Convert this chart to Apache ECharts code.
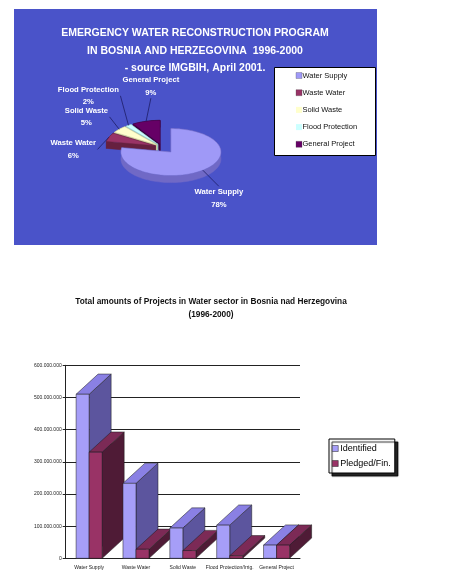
<!DOCTYPE html>
<html><head><meta charset="utf-8">
<script src="https://cdn.jsdelivr.net/npm/echarts@6/dist/echarts.min.js"></script>
<style>html,body{margin:0;padding:0;background:#fff}#c{width:452px;height:586px}</style>
</head><body><div id="c"></div>
<script>
// ---------- data ----------
const pieCategories = ['Water Supply', 'Waste Water', 'Solid Waste', 'Flood Protection', 'General Project'];
const piePercents = [78, 6, 5, 2, 9];

const barCategories = ['Water Supply', 'Waste Water', 'Solid Waste', 'Flood Protection/Irrig.', 'General Project'];
const identified = [510000000, 233000000, 94000000, 103000000, 41000000];
const pledged = [330000000, 28000000, 24000000, 8000000, 41000000];
const barSeriesNames = ['Identified', 'Pledged/Fin.'];
const yMin = 0, yMax = 600000000, yStep = 100000000;

// ---------- styles ----------
const FONT = 'Liberation Sans, Arial, sans-serif';
const LABEL_FONT = 'bold 7.7px ' + FONT;
const pieTop = ['#9f99f7', '#993366', '#ffffcc', '#ccffff', '#660066'];
const pieWall = ['#7069c6', '#66203f', '#c9c99a', '#93c6c6', '#3f003f'];
const pieExplode = [14, 7, 7, 7, 7];
const barFace = [
  {front: '#a69ef8', top: '#8a80e4', side: '#5c559e'},
  {front: '#993366', top: '#7c2a56', side: '#4f1b36'}
];

const measureCtx = document.createElement('canvas').getContext('2d');
function textWidth(str, font) { measureCtx.font = font; return measureCtx.measureText(str).width; }

const C = [162, 147], RX = 50, RY = 23.5, DEPTH = 7;
const total = piePercents.reduce((a, b) => a + b, 0);
let acc = 0;
const sliceAngles = piePercents.map(v => {
  const a0 = acc / total * Math.PI * 2; acc += v;
  return [a0, acc / total * Math.PI * 2];
});

function pieRender(params, api) {
  const i = params.dataIndex;
  const [a0, a1] = sliceAngles[i];
  const mid = (a0 + a1) / 2;
  const e = pieExplode[i];
  const ox = e * Math.sin(mid), oy = -e * Math.cos(mid) * RY / RX;
  const cx = C[0] + ox, cy = C[1] + oy;
  const P = (t, d) => [cx + RX * Math.sin(t), cy - RY * Math.cos(t) + d];
  const n = Math.max(2, Math.ceil((a1 - a0) / 0.04));
  const topArc = [], botArc = [];
  for (let k = 0; k <= n; k++) {
    const t = a0 + (a1 - a0) * k / n;
    topArc.push(P(t, 0)); botArc.push(P(t, DEPTH));
  }
  const apex = [cx, cy], apexB = [cx, cy + DEPTH];
  const wallStyle = {fill: pieWall[i], stroke: pieWall[i], lineWidth: 0.5};
  const s = Math.sin(mid), c = Math.cos(mid);
  const midY = cy - RY * c;
  const z = Math.round(midY);
  const children = [
    {type: 'polygon', z2: z, shape: {points: [apex, topArc[0], botArc[0], apexB]}, style: wallStyle},
    {type: 'polygon', z2: z, shape: {points: [apex, topArc[n], botArc[n], apexB]}, style: wallStyle},
    {type: 'polygon', z2: z, shape: {points: topArc.concat(botArc.slice().reverse())}, style: wallStyle},
    {type: 'polygon', z2: z + 1, shape: {points: [apex].concat(topArc)}, style: {fill: pieTop[i], stroke: pieWall[i], lineWidth: 0.4}}
  ];
  // label layout (decluttered on the left side)
  const name = pieCategories[i];
  const w = textWidth(name, LABEL_FONT);
  const rightAligned = s < -0.45;
  let lx, end;
  const ly = cy - 60 * c + 78 * Math.max(0, -s - 0.6);
  if (rightAligned) {
    const edge = cx + 60 * s - 3.7;
    lx = edge - w / 2;
    end = [edge + 1.5, ly];
  } else {
    lx = cx + 118 * s * Math.abs(s);
    end = c > 0 ? [lx, ly + 12] : [lx, ly - 12];
  }
  const arcPt = P(mid, 0);
  children.push(
    {type: 'polyline', z2: 500, shape: {points: [arcPt, end]}, style: {stroke: '#1d1d66', lineWidth: 0.8, fill: null}},
    {type: 'text', z2: 600, style: {
      text: name + '\n' + piePercents[i] + '%', x: lx, y: ly,
      align: 'center', verticalAlign: 'middle',
      fill: '#ffffff', font: LABEL_FONT, lineHeight: 12.5
    }}
  );
  return {type: 'group', children: children};
}

function barRender(side) {
  return function (params, api) {
    const idx = api.value(0), val = api.value(1);
    const top = api.coord([idx, val]);
    const base = api.coord([idx, 0]);
    const bw = api.size([1, 0])[0] * 0.278;
    const x0 = side === 0 ? top[0] - bw : top[0];
    const x1 = x0 + bw;
    const yT = top[1], yB = base[1];
    const dx = bw * 1.69, dy = -bw * 1.55;
    const f = barFace[side];
    const z = idx * 10 + side * 3;
    const st = {stroke: '#1a1a1a', lineWidth: 0.5};
    return {
      type: 'group',
      children: [
        {type: 'polygon', z2: z, shape: {points: [[x1, yT], [x1 + dx, yT + dy], [x1 + dx, yB + dy], [x1, yB]]}, style: Object.assign({fill: f.side}, st)},
        {type: 'polygon', z2: z + 1, shape: {points: [[x0, yT], [x1, yT], [x1 + dx, yT + dy], [x0 + dx, yT + dy]]}, style: Object.assign({fill: f.top}, st)},
        {type: 'rect', z2: z + 2, shape: {x: x0, y: yT, width: bw, height: yB - yT}, style: Object.assign({fill: f.front}, st)}
      ]
    };
  };
}

const fmt = v => String(v).replace(/\B(?=(\d{3})+(?!\d))/g, '.');

// pie legend built from categories
const legendGraphics = [
  {type: 'rect', shape: {x: 274.5, y: 67.5, width: 101, height: 88}, style: {fill: '#fff', stroke: '#000', lineWidth: 1}, z: 10}
];
pieCategories.forEach((name, i) => {
  const y = 75.5 + i * 17.2;
  legendGraphics.push({type: 'rect', shape: {x: 296, y: y - 3, width: 6, height: 6}, style: {fill: pieTop[i], stroke: i === 2 || i === 3 ? null : '#444', lineWidth: 0.3}, z: 11});
  legendGraphics.push({type: 'text', style: {text: name, x: 302.5, y: y, verticalAlign: 'middle', fill: '#111', font: '7.5px ' + FONT}, z: 11});
});

const chart = echarts.init(document.getElementById('c'), null, {renderer: 'canvas'});
chart.setOption({
  animation: false,
  backgroundColor: '#ffffff',
  graphic: [
    {type: 'rect', shape: {x: 14, y: 9, width: 363, height: 236}, style: {fill: '#4a53c9'}, z: -10}
  ].concat(legendGraphics),
  title: [
    {
      text: 'EMERGENCY WATER RECONSTRUCTION PROGRAM\nIN BOSNIA AND HERZEGOVINA  1996-2000\n- source IMGBIH, April 2001.',
      left: 195, top: 24.5, textAlign: 'center', padding: 0,
      textStyle: {color: '#ffffff', fontFamily: FONT, fontWeight: 'bold', fontSize: 10.5, lineHeight: 17.5}
    },
    {
      text: 'Total amounts of Projects in Water sector in Bosnia nad Herzegovina\n(1996-2000)',
      left: 211, top: 295.5, textAlign: 'center', padding: 0,
      textStyle: {color: '#111', fontFamily: FONT, fontWeight: 'bold', fontSize: 8.3, lineHeight: 13}
    }
  ],
  legend: {
    data: barSeriesNames,
    orient: 'vertical',
    left: 329, top: 439,
    padding: [5, 4, 5, 3],
    itemGap: 6,
    itemWidth: 6, itemHeight: 6,
    icon: 'rect',
    backgroundColor: '#fff',
    borderColor: '#000', borderWidth: 1,
    shadowColor: 'rgba(0,0,0,0.85)', shadowBlur: 1, shadowOffsetX: 3, shadowOffsetY: 3,
    itemStyle: {borderColor: '#222', borderWidth: 0.5},
    textStyle: {fontFamily: FONT, fontSize: 9, color: '#000', padding: [0, 0, 0, -3]}
  },
  grid: {left: 65.7, right: 152, top: 365.3, bottom: 27.7, containLabel: false},
  xAxis: {
    type: 'category', data: barCategories,
    axisLine: {lineStyle: {color: '#222', width: 1}},
    axisTick: {show: false},
    axisLabel: {fontSize: 5, color: '#222', fontFamily: FONT, margin: 7, interval: 0}
  },
  yAxis: {
    type: 'value', min: yMin, max: yMax, interval: yStep,
    axisLine: {show: true, lineStyle: {color: '#222', width: 1}},
    axisTick: {show: true, length: 3, lineStyle: {color: '#222'}},
    splitLine: {lineStyle: {color: '#222', width: 1}},
    axisLabel: {fontSize: 5, color: '#222', fontFamily: FONT, margin: 4, formatter: fmt}
  },
  series: [
    {
      type: 'custom', name: 'pie3d', coordinateSystem: 'none', silent: true,
      data: piePercents.map((v, i) => ({name: pieCategories[i], value: v})),
      renderItem: pieRender
    },
    {
      type: 'custom', name: barSeriesNames[0], itemStyle: {color: barFace[0].front},
      data: identified.map((v, i) => [i, v]), encode: {x: 0, y: 1},
      renderItem: barRender(0)
    },
    {
      type: 'custom', name: barSeriesNames[1], itemStyle: {color: barFace[1].front},
      data: pledged.map((v, i) => [i, v]), encode: {x: 0, y: 1},
      renderItem: barRender(1)
    }
  ]
});
</script>
</body></html>
